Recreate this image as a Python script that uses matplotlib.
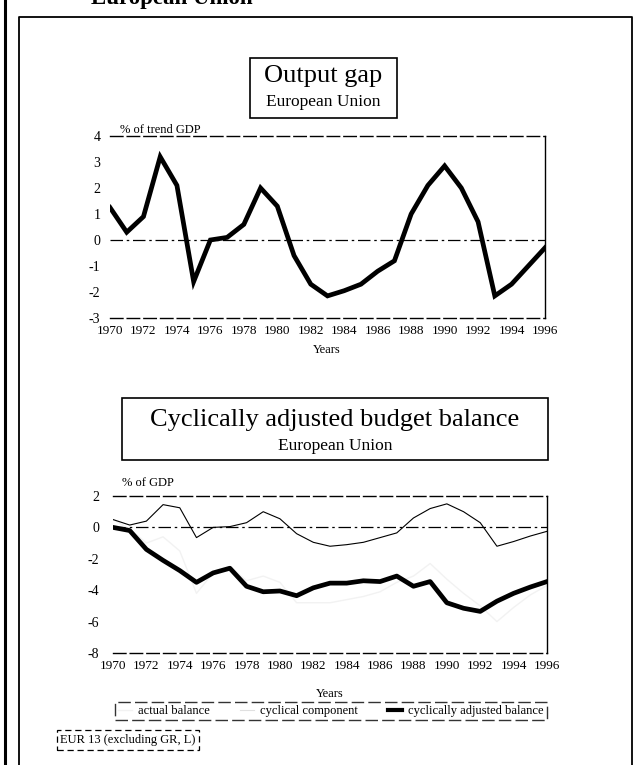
import matplotlib
matplotlib.use("Agg")
import matplotlib.pyplot as plt
from matplotlib.lines import Line2D
from matplotlib.patches import Rectangle

plt.rcParams['font.family'] = ['Liberation Serif', 'DejaVu Serif']

# ---------------- data ----------------
years = list(range(1970, 1997))
output_gap = [1.25, 0.3, 0.9, 3.2, 2.1, -1.6, 0.0, 0.1, 0.6, 2.0, 1.3, -0.6,
              -1.7, -2.15, -1.95, -1.7, -1.2, -0.8, 1.0, 2.1, 2.85, 2.0, 0.7,
              -2.15, -1.7, -1.0, -0.3]
cyclical_component = [0.5, 0.15, 0.4, 1.45, 1.25, -0.65, 0.0, 0.05, 0.3, 1.0,
                      0.55, -0.4, -0.95, -1.2, -1.1, -0.95, -0.65, -0.35, 0.6,
                      1.2, 1.5, 1.0, 0.3, -1.2, -0.9, -0.55, -0.25]
cyc_adjusted_balance = [0.0, -0.2, -1.4, -2.1, -2.75, -3.5, -2.9, -2.6, -3.75,
                        -4.1, -4.05, -4.35, -3.85, -3.55, -3.55, -3.4, -3.45,
                        -3.1, -3.75, -3.45, -4.8, -5.15, -5.35, -4.7, -4.2,
                        -3.8, -3.45]
actual_balance = [0.5, -0.1, -1.0, -0.6, -1.5, -4.2, -2.9, -2.5, -3.4, -3.1,
                  -3.5, -4.8, -4.8, -4.8, -4.6, -4.4, -4.1, -3.5, -3.1, -2.3,
                  -3.3, -4.2, -5.0, -6.0, -5.1, -4.3, -3.7]
xticks = list(range(1970, 1997, 2))
top_yticks = [4, 3, 2, 1, 0, -1, -2, -3]
bot_yticks = [2, 0, -2, -4, -6, -8]

W, H = 638, 765
fig = plt.figure(figsize=(W / 100, H / 100), dpi=100)


def fx(x):
    return x / W


def fy(y):
    return 1 - y / H


def add_axes_px(x0, x1, ytop, ybot):
    return fig.add_axes([fx(x0), fy(ybot), (x1 - x0) / W, (ybot - ytop) / H])


def style_axes(ax, ypad):
    ax.spines['left'].set_visible(False)
    for s in ('top', 'bottom'):
        ax.spines[s].set_linestyle((0, (9, 3)))
        ax.spines[s].set_linewidth(1.0)
    ax.spines['right'].set_linewidth(1.0)
    ax.tick_params(axis='both', length=0)
    ax.tick_params(axis='y', pad=ypad, labelsize=10)
    ax.tick_params(axis='x', pad=5, labelsize=9.5)
    ax.set_xticks(xticks)
    ax.set_xticklabels([str(t) for t in xticks])
    ax.set_xlim(1970, 1996)
    ax.axhline(0, color='black', lw=0.9, ls=(0, (10, 3, 2, 3)), zorder=1)


# page / frame lines
fig.add_artist(Line2D([fx(5), fx(5)], [0, 1], color='black', lw=2.2,
                      transform=fig.transFigure))
fig.add_artist(Line2D([fx(19), fx(19), fx(632), fx(632)],
                      [0, fy(17), fy(17), 0], color='black', lw=1.3,
                      transform=fig.transFigure))
fig.text(fx(91), fy(4), 'European Union', fontsize=16.5, fontweight='bold',
         va='baseline', ha='left')

# ---------------- top chart ----------------
fig.add_artist(Rectangle((fx(250), fy(118)), (397 - 250) / W, (118 - 58) / H,
                         fill=False, lw=1.2, ec='black',
                         transform=fig.transFigure))
fig.text(fx(323.5), fy(76), 'Output gap', fontsize=19, ha='center', va='center')
fig.text(fx(323.5), fy(102), 'European Union', fontsize=12.5, ha='center',
         va='center')

ax1 = add_axes_px(110, 545, 136, 318)
ax1.plot(years, output_gap, color='black', lw=3.4, solid_joinstyle='miter',
         zorder=3)
ax1.set_ylim(-3, 4)
ax1.set_yticks(top_yticks)
ax1.set_yticklabels([str(t) for t in top_yticks])
style_axes(ax1, 7)
fig.text(fx(120), fy(130), '% of trend GDP', fontsize=9, ha='left',
         va='center')
fig.text(fx(327), fy(350), 'Years', fontsize=9, ha='center', va='center')

# ---------------- bottom chart ----------------
fig.add_artist(Rectangle((fx(122), fy(460)), (548 - 122) / W, (460 - 398) / H,
                         fill=False, lw=1.2, ec='black',
                         transform=fig.transFigure))
fig.text(fx(335), fy(420), 'Cyclically adjusted budget balance', fontsize=19,
         ha='center', va='center')
fig.text(fx(335), fy(446), 'European Union', fontsize=12.5, ha='center',
         va='center')

ax2 = add_axes_px(113, 547, 496, 653)
l_act, = ax2.plot(years, actual_balance, color='#f2f2f2', lw=1.0, zorder=2)
l_cyc, = ax2.plot(years, cyclical_component, color='black', lw=0.8, zorder=3)
l_adj, = ax2.plot(years, cyc_adjusted_balance, color='black', lw=3.4, zorder=4)
ax2.set_ylim(-8, 2)
ax2.set_yticks(bot_yticks)
ax2.set_yticklabels([str(t) for t in bot_yticks])
style_axes(ax2, 10)
fig.text(fx(122), fy(483), '% of GDP', fontsize=9, ha='left', va='center')
fig.text(fx(330), fy(694), 'Years', fontsize=9, ha='center', va='center')

h_act = Line2D([], [], color='#f2f2f2', lw=1.0)
h_cyc = Line2D([], [], color='#e0e0e0', lw=0.8)
h_adj = Line2D([], [], color='black', lw=3.0)
leg = fig.legend([h_act, h_cyc, h_adj],
                 ['actual balance', 'cyclical component',
                  'cyclically adjusted balance'],
                 loc='center', bbox_to_anchor=(fx(331), fy(711)), ncol=3,
                 fontsize=9, frameon=True, fancybox=False, edgecolor='black',
                 handlelength=1.1, handletextpad=0.5, columnspacing=2.4,
                 borderpad=0.25, borderaxespad=0)
leg.get_frame().set_linewidth(1.0)
leg.get_frame().set_linestyle((0, (9, 3)))

fig.text(fx(128), fy(740), 'EUR 13 (excluding GR, L)', fontsize=9,
         ha='center', va='center',
         bbox=dict(boxstyle='square,pad=0.3', fc='white', ec='black',
                   lw=0.9, ls=(0, (5, 3))))

fig.savefig('out.png', dpi=100)
